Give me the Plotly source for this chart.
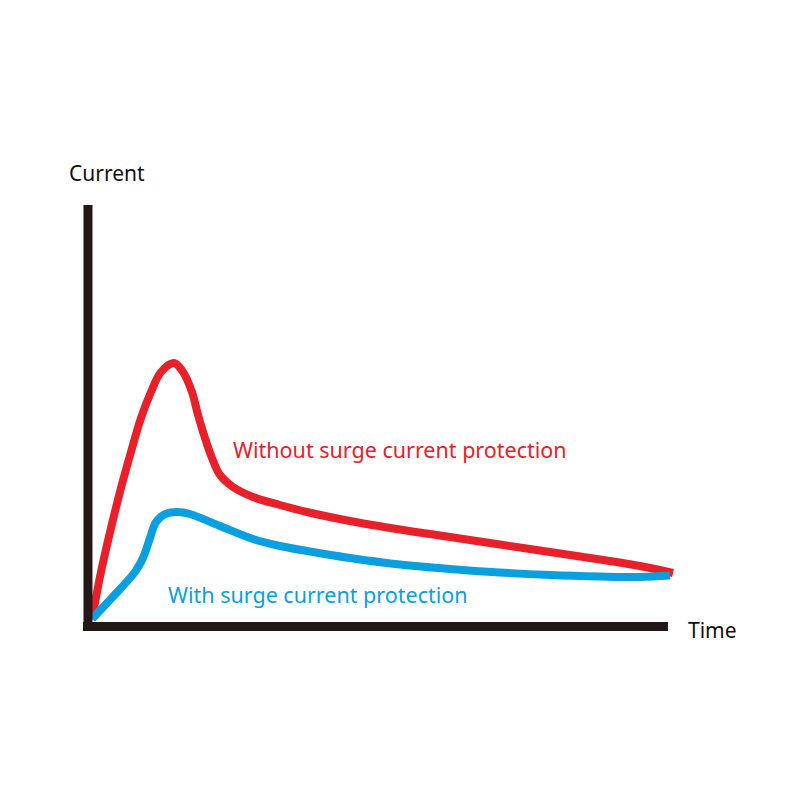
import plotly.graph_objects as go

# time and current in arbitrary units (0-100 along each axis)
time_without = [0.69, 2.24, 3.97, 5.69, 7.41, 9.14, 10.86, 12.59, 14.83, 16.38, 17.93,
                18.97, 20.17, 21.38, 22.76, 25.0, 28.45, 33.1, 37.76, 45.17, 53.79,
                62.41, 71.03, 79.66, 88.28, 95.17, 100.86]
current_without = [1.66, 12.83, 23.28, 32.78, 41.33, 49.41, 55.58, 60.33, 62.47, 60.33, 55.58,
                   50.12, 44.66, 39.9, 35.87, 33.02, 30.64, 28.74, 27.08, 24.94, 22.92,
                   21.14, 19.36, 17.58, 15.8, 14.25, 12.59]

time_with = [0.69, 3.45, 5.69, 8.1, 9.48, 10.69, 11.72, 13.28, 15.52, 17.59, 22.76,
             28.45, 33.1, 37.76, 45.17, 53.79, 62.41, 71.03, 79.66, 88.28, 95.17, 100.34]
current_with = [1.66, 5.7, 9.03, 12.83, 16.15, 20.9, 24.7, 26.6, 27.08, 26.6, 23.75,
                20.67, 19.0, 17.81, 16.15, 14.61, 13.54, 12.71, 12.11, 11.76, 11.64, 12.0]

RED = "#e8202a"
BLUE = "#0aa0e0"
AXIS = "#231815"
FONT = "Noto Sans"

fig = go.Figure()
fig.add_trace(go.Scatter(
    x=time_without, y=current_without, mode="lines",
    line=dict(color=RED, width=8, shape="spline", smoothing=1.0, simplify=False),
))
fig.add_trace(go.Scatter(
    x=time_with, y=current_with, mode="lines",
    line=dict(color=BLUE, width=8, shape="spline", smoothing=1.0, simplify=False),
))

# axes drawn as thick bars
fig.add_shape(type="line", x0=0, x1=0, y0=-0.95, y1=100,
              line=dict(color=AXIS, width=9))
fig.add_shape(type="line", x0=-0.86, x1=100, y0=-0.1, y1=-0.1,
              line=dict(color=AXIS, width=9))

fig.add_annotation(x=-3.6, y=107.6, text="Current", showarrow=False,
                   xanchor="left", font=dict(family=FONT, size=21, color="#111111"))
fig.add_annotation(x=103.1, y=-1, text="Time", showarrow=False,
                   xanchor="left", font=dict(family=FONT, size=21, color="#111111"))
fig.add_annotation(x=24.6, y=42, text="Without surge current protection", showarrow=False,
                   xanchor="left", font=dict(family=FONT, size=21.5, color=RED))
fig.add_annotation(x=13.4, y=7.6, text="With surge current protection", showarrow=False,
                   xanchor="left", font=dict(family=FONT, size=21.5, color=BLUE))

# ranges offset for the 8px page margin around the plot div
fig.update_layout(
    width=800, height=800,
    margin=dict(l=0, r=0, t=0, b=0),
    paper_bgcolor="white", plot_bgcolor="white",
    showlegend=False,
    xaxis=dict(range=[-13.79, 124.14], visible=False, fixedrange=True),
    yaxis=dict(range=[-43.23, 146.79], visible=False, fixedrange=True),
)

fig.write_html("out.html")
